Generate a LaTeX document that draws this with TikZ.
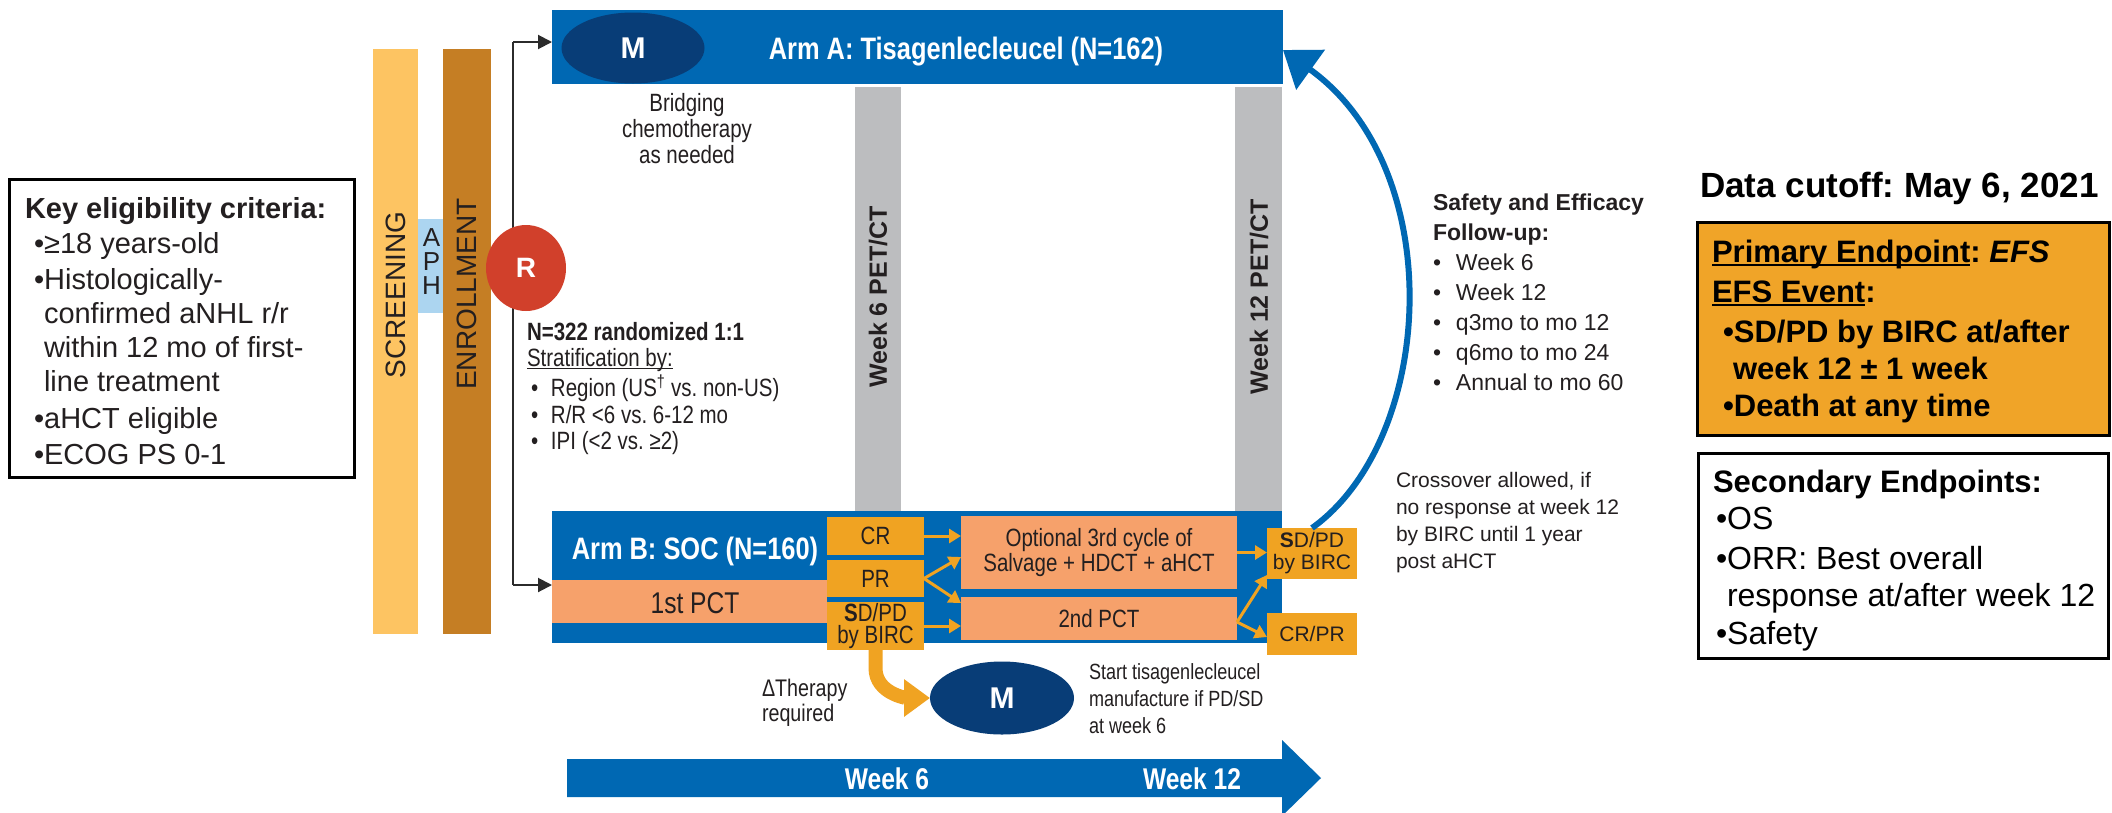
\documentclass[tikz,border=0pt]{standalone}
\usepackage{fontspec}
\setmainfont{Liberation Sans}
\newfontfamily\narrowfont[FakeStretch=0.82]{Liberation Sans}
\usetikzlibrary{arrows.meta,shapes.geometric,calc}
\frenchspacing

\definecolor{armblue}{HTML}{0068B3}
\definecolor{navy}{HTML}{083D77}
\definecolor{barGray}{HTML}{BCBDBF}
\definecolor{screenYel}{HTML}{FDC462}
\definecolor{enrollBrn}{HTML}{C57E24}
\definecolor{aphBlue}{HTML}{ACD5F0}
\definecolor{randRed}{HTML}{D1402B}
\definecolor{salmon}{HTML}{F6A16B}
\definecolor{gold}{HTML}{F0A322}
\definecolor{primGold}{HTML}{F0A428}
\definecolor{ink}{HTML}{231F20}
\definecolor{conn}{HTML}{2B2B2B}

\newcommand{\setfs}[2]{\fontsize{#1}{#2}\selectfont}
\newsavebox{\ulbox}
\newcommand{\ulin}[3]{\sbox{\ulbox}{#3}\rlap{\rule[-#1]{\wd\ulbox}{#2}}\usebox{\ulbox}}

\begin{document}
\begin{tikzpicture}[x=1pt,y=-1pt]
\tikzset{
  every node/.style={inner sep=0pt, outer sep=0pt, text=ink},
  connline/.style={draw=conn, line width=2pt},
  connarrow/.style={connline, -{Triangle[length=14pt,width=14pt]}},
  goldarrow/.style={draw=gold, line width=3pt, -{Triangle[length=12pt,width=14pt]}},
  bigarrow/.style={draw=gold, line width=14pt, -{Triangle[length=26pt,width=36pt]}},
  bluearc/.style={draw=armblue, line width=6pt, -{Triangle[length=34pt,width=48pt]}},
  framed/.style={draw=black, line width=3pt},
  narrowtxt/.style={font=\narrowfont\setfs{#1}{#1}},
  armlabel/.style={anchor=base, text=white, font=\narrowfont\bfseries\setfs{31}{34}},
  mfg/.style={ellipse, fill=navy, text=white, font=\bfseries\setfs{30}{32}},
}
\useasboundingbox (0,0) rectangle (2112,812);
\fill[white] (0,0) rectangle (2112,812);

% ---------- eligibility criteria ----------
\node[framed, minimum width=345pt, minimum height=298pt] (keybox) at (181.5,328) {};
\node[anchor=north west, align=left, font=\setfs{29}{34}] (keytxt) at (25,197)
  {\textbf{Key eligibility criteria:}\\[1pt]
   \hspace*{9pt}•≥18 years-old\\[2pt]
   \hspace*{9pt}•Histologically-\\
   \hspace*{19pt}confirmed aNHL r/r\\
   \hspace*{19pt}within 12 mo of first-\\
   \hspace*{19pt}line treatment\\[3pt]
   \hspace*{9pt}•aHCT eligible\\[2pt]
   \hspace*{9pt}•ECOG PS 0-1};

% ---------- screening / apheresis / enrollment ----------
\node[fill=screenYel, minimum width=45pt, minimum height=585pt] (screen) at (395.5,341.5) {};
\node[rotate=90, font=\setfs{28}{30}] (screenlbl) at (396,295) {SCREENING};
\node[fill=aphBlue, minimum width=27pt, minimum height=94pt] (aph) at (431.5,266) {};
\node[align=center, font=\setfs{26}{24}] (aphlbl) at (431.5,262) {A\\P\\H};
\node[fill=enrollBrn, minimum width=48pt, minimum height=585pt] (enroll) at (467,341.5) {};
\node[rotate=90, font=\setfs{28}{30}] (enrolllbl) at (467,294) {ENROLLMENT};

% ---------- Arm A ----------
\node[fill=armblue, minimum width=731pt, minimum height=74pt] (armA) at (917.5,47) {};
\node[mfg, minimum width=143pt, minimum height=71pt] (mA) at (633,48) {M};
\node[armlabel] (armAlbl) at (966,59) {Arm A: Tisagenlecleucel (N=162)};

% ---------- PET/CT bars ----------
\node[fill=barGray, minimum width=46pt, minimum height=424pt] (pet6) at (878,299) {};
\node[rotate=90, font=\bfseries\setfs{25}{28}] (pet6lbl) at (878,297) {Week 6 PET/CT};
\node[fill=barGray, minimum width=47pt, minimum height=424pt] (pet12) at (1258.5,299) {};
\node[rotate=90, font=\bfseries\setfs{25}{28}] (pet12lbl) at (1259,297) {Week 12 PET/CT};

% ---------- Arm B ----------
\node[fill=armblue, minimum width=730pt, minimum height=132pt] (armB) at (917,577) {};
\node[fill=salmon, minimum width=275pt, minimum height=43pt] (pct1) at (689.5,601.5) {};
\node[narrowtxt=30] (pct1lbl) at (695,603) {1st PCT};
\node[armlabel] (armBlbl) at (695,559) {Arm B: SOC (N=160)};
\node[fill=gold, minimum width=97pt, minimum height=38pt, narrowtxt=25] (cr) at (875.5,536) {CR};
\node[fill=gold, minimum width=97pt, minimum height=37pt, narrowtxt=25] (pr) at (875.5,578.5) {PR};
\node[fill=gold, minimum width=97pt, minimum height=48pt, align=center,
      font=\narrowfont\setfs{25}{22}] (sdpd) at (875.5,626) {{\bfseries S}D/PD\\by BIRC};
\node[fill=salmon, minimum width=276pt, minimum height=73pt, align=center,
      font=\narrowfont\setfs{25}{25}] (opt) at (1099,552.5) {Optional 3rd cycle of\\Salvage + HDCT + aHCT};
\node[fill=salmon, minimum width=276pt, minimum height=43pt, narrowtxt=25] (pct2) at (1099,618.5) {2nd PCT};
\node[fill=gold, minimum width=90pt, minimum height=51pt, align=center,
      font=\setfs{21}{22}] (sdpd2) at (1312,553.5) {{\bfseries S}D/PD\\by BIRC};
\node[fill=gold, minimum width=90pt, minimum height=42pt, font=\setfs{21}{22}] (crpr) at (1312,634) {CR/PR};

% response arrows inside Arm B
\draw[goldarrow] (cr.east) -- (cr.east -| opt.west);
\draw[goldarrow] (pr.east) -- ([yshift=-4.5pt]opt.west);
\draw[goldarrow] (pr.east) -- ([yshift=15.5pt]pct2.west);
\draw[goldarrow] (sdpd.east) -- (sdpd.east -| pct2.west);
\draw[goldarrow] (opt.east) -- (opt.east -| sdpd2.west);
\draw[goldarrow] ([yshift=-3.5pt]pct2.east) -- ([yshift=-21.5pt]sdpd2.west);
\draw[goldarrow] ([yshift=-3.5pt]pct2.east) -- ([yshift=-3pt]crpr.west);

% ---------- randomisation connector ----------
\coordinate (jA) at (513,42);
\coordinate (jB) at (513,585);
\draw[connline] (jA) -- (jB);
\draw[connarrow] (jA) -- (jA -| armA.west);
\draw[connarrow] (jB) -- (jB -| armB.west);
\node[ellipse, fill=randRed, minimum width=80pt, minimum height=86pt, text=white,
      font=\bfseries\setfs{28}{30}] (rand) at (526,268) {R};

% ---------- manufacturing after SD/PD ----------
\node[mfg, minimum width=144pt, minimum height=73pt] (mB) at (1002,698) {M};
\draw[bigarrow] (sdpd.south) -- ++(0,18) .. controls +(0,26) and +(-22,0) .. (mB.west);

% ---------- crossover arc ----------
\draw[bluearc] (sdpd2.north) .. controls (1435,440) and (1450,170) .. ([yshift=-3pt]armA.east);

% ---------- free text ----------
\node[anchor=north, align=center, font=\narrowfont\setfs{25}{26}] (bridge) at (687,93)
  {Bridging\\chemotherapy\\as needed};
\node[anchor=north west, align=left, font=\narrowfont\setfs{25}{26.5}] (strat) at (527,322)
  {\textbf{N=322 randomized 1:1}\\
   \ulin{2.5pt}{1.5pt}{Stratification by:}\\[2pt]
   \hspace*{4pt}\makebox[20pt][l]{•}Region (US\textsuperscript{†} vs. non-US)\\
   \hspace*{4pt}\makebox[20pt][l]{•}R/R <6 vs. 6-12 mo\\
   \hspace*{4pt}\makebox[20pt][l]{•}IPI (<2 vs. ≥2)};
\node[anchor=north west, align=left, font=\narrowfont\setfs{24}{25}] (dtherapy) at (762,679)
  {ΔTherapy\\required};
\node[anchor=north west, align=left, font=\narrowfont\setfs{22}{27}] (manuf) at (1089,664)
  {Start tisagenlecleucel\\manufacture if PD/SD\\at week 6};
\node[anchor=north west, align=left, font=\setfs{23}{30}] (follow) at (1433,194)
  {\textbf{Safety and Efficacy}\\
   \textbf{Follow-up:}\\
   \makebox[23pt][l]{•}Week 6\\
   \makebox[23pt][l]{•}Week 12\\
   \makebox[23pt][l]{•}q3mo to mo 12\\
   \makebox[23pt][l]{•}q6mo to mo 24\\
   \makebox[23pt][l]{•}Annual to mo 60};
\node[anchor=north west, align=left, font=\setfs{21}{27}] (cross) at (1396,472)
  {Crossover allowed, if\\no response at week 12\\by BIRC until 1 year\\post aHCT};

% ---------- timeline ----------
\fill[armblue] (567,759) -- (1282,759) -- (1282,740) -- (1321,778) -- (1282,816)
  -- (1282,797) -- (567,797) -- cycle;
\node[anchor=base, text=white, font=\narrowfont\bfseries\setfs{30}{32}] (wk6) at (887,789) {Week 6};
\node[anchor=base, text=white, font=\narrowfont\bfseries\setfs{30}{32}] (wk12) at (1192,789) {Week 12};

% ---------- endpoints ----------
\node[anchor=base west, text=black, font=\bfseries\setfs{35}{40}] (cutoff) at (1700,197) {Data cutoff: May 6, 2021};
\node[framed, fill=primGold, minimum width=412pt, minimum height=213pt] (prim) at (1903,328.5) {};
\node[anchor=north west, align=left, text=black, font=\bfseries\setfs{31}{37}] (primtxt) at (1712,240)
  {\ulin{4pt}{2.5pt}{Primary Endpoint}: \textit{EFS}\\[3pt]
   \ulin{4pt}{2.5pt}{EFS Event}:\\[3pt]
   \hspace*{11pt}•SD/PD by BIRC at/after\\
   \hspace*{21pt}week 12 ± 1 week\\
   \hspace*{11pt}•Death at any time};
\node[framed, minimum width=410pt, minimum height=205pt] (sec) at (1903,555.5) {};
\node[anchor=north west, align=left, text=black, font=\setfs{32}{37}] (sectxt) at (1713,470)
  {{\bfseries\setfs{31}{37}Secondary Endpoints:}\\
   \hspace*{3pt}•OS\\[3pt]
   \hspace*{3pt}•ORR: Best overall\\
   \hspace*{14pt}response at/after week 12\\[1pt]
   \hspace*{3pt}•Safety};
\end{tikzpicture}
\end{document}
